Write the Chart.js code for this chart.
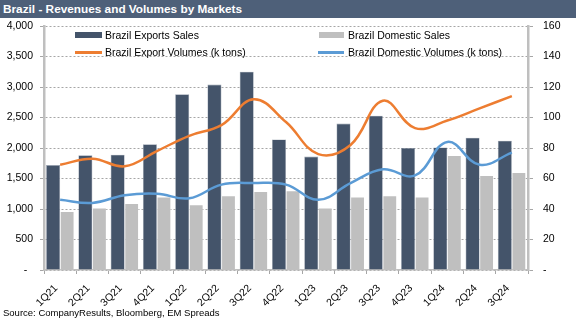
<!DOCTYPE html>
<html>
<head>
<meta charset="utf-8">
<script src="https://cdn.jsdelivr.net/npm/chart.js@4/dist/chart.umd.min.js"></script>
<style>
  html, body { margin: 0; padding: 0; background: #fff; }
  #wrap { position: relative; width: 576px; height: 323px; overflow: hidden; font-family: "Liberation Sans", Arial, sans-serif; }
  #c { position: absolute; left: 0; top: 0; }
  #title { position: absolute; left: 0; top: 0; width: 576px; height: 18px; background: #4e6079; color: #fff; font-weight: bold; font-size: 11.8px; line-height: 18px; padding-left: 3px; box-sizing: border-box; }
  .leg { position: absolute; font-size: 10.5px; color: #000; line-height: 12px; white-space: nowrap; }
  .sw { position: absolute; }
  #source { position: absolute; left: 3px; top: 307px; font-size: 9.5px; color: #000; white-space: nowrap; }
</style>
</head>
<body>
<div id="wrap">
  <canvas id="c" width="576" height="323"></canvas>
  <div id="title">Brazil - Revenues and Volumes by Markets</div>
  <div class="sw" style="left:75px;top:32px;width:27px;height:6px;background:#44546a"></div>
  <div class="leg" style="left:105px;top:29px">Brazil Exports Sales</div>
  <div class="sw" style="left:319px;top:32px;width:25px;height:6px;background:#bfbfbf"></div>
  <div class="leg" style="left:348px;top:29px">Brazil Domestic Sales</div>
  <div class="sw" style="left:75px;top:51px;width:27px;height:2.5px;background:#ed7d31"></div>
  <div class="leg" style="left:105px;top:46px">Brazil Export Volumes (k tons)</div>
  <div class="sw" style="left:318px;top:51px;width:26px;height:2.5px;background:#5b9bd5"></div>
  <div class="leg" style="left:348px;top:46px">Brazil Domestic Volumes (k tons)</div>
  <div id="source">Source: CompanyResults, Bloomberg, EM Spreads</div>
</div>
<script>
const categories = ['1Q21','2Q21','3Q21','4Q21','1Q22','2Q22','3Q22','4Q22','1Q23','2Q23','3Q23','4Q23','1Q24','2Q24','3Q24'];
const exportSales = [1720, 1880, 1890, 2060, 2880, 3040, 3250, 2140, 1860, 2400, 2530, 2000, 2010, 2170, 2120];
const domesticSales = [960, 1020, 1090, 1200, 1070, 1220, 1290, 1300, 1020, 1200, 1220, 1200, 1880, 1550, 1600];
const exportVolumes = [69, 73, 68, 78, 88, 95, 112, 97, 76, 82, 111, 93, 98, 106, 114];
const domesticVolumes = [46, 44, 49, 50, 47, 56, 57, 56, 46, 57, 66, 62, 84, 69, 77];

const tickFont = { family: "'Liberation Sans', Arial, sans-serif", size: 10.5 };

new Chart(document.getElementById('c'), {
  data: {
    labels: categories,
    datasets: [
      { type: 'line', label: 'Brazil Export Volumes (k tons)', data: exportVolumes, yAxisID: 'y1',
        borderColor: '#ed7d31', borderWidth: 2.5, pointRadius: 0, tension: 0.4, order: 0, fill: false },
      { type: 'line', label: 'Brazil Domestic Volumes (k tons)', data: domesticVolumes, yAxisID: 'y1',
        borderColor: '#5b9bd5', borderWidth: 2.5, pointRadius: 0, tension: 0.4, order: 0, fill: false },
      { type: 'bar', label: 'Brazil Exports Sales', data: exportSales, yAxisID: 'y',
        backgroundColor: '#44546a', borderColor: 'rgba(140,150,165,0.9)', borderWidth: 0.6,
        barPercentage: 1.0, categoryPercentage: 0.87, order: 1 },
      { type: 'bar', label: 'Brazil Domestic Sales', data: domesticSales, yAxisID: 'y',
        backgroundColor: '#bfbfbf', borderColor: 'rgba(255,255,255,0.9)', borderWidth: 0.6,
        barPercentage: 1.0, categoryPercentage: 0.87, order: 1 }
    ]
  },
  options: {
    responsive: false,
    animation: false,
    devicePixelRatio: 1,
    layout: { padding: { top: 26, bottom: 0, left: 0, right: 0 } },
    plugins: { legend: { display: false }, tooltip: { enabled: false } },
    scales: {
      x: {
        offset: true,
        afterFit: (s) => { s.height = 53; },
        grid: { display: true, drawOnChartArea: false, drawTicks: true, tickLength: 4, offset: true, color: '#bfbfbf', tickColor: '#a6a6a6' },
        border: { display: true, color: '#bfbfbf', width: 1.5 },
        ticks: { minRotation: 45, maxRotation: 45, autoSkip: false, color: '#000', font: tickFont, padding: 8, labelOffset: -4 }
      },
      y: {
        position: 'left', min: 0, max: 4000,
        afterFit: (s) => { s.width = 44; },
        ticks: { stepSize: 500, color: '#000', font: tickFont, padding: 7,
          callback: (v) => v === 0 ? '-\u2007' : v.toLocaleString('en-US') },
        grid: { color: '#a6a6a6', lineWidth: 1, tickLength: 4, tickColor: '#a6a6a6', tickBorderDash: [] },
        border: { display: true, color: '#bfbfbf', width: 2.5, dash: [2, 2] }
      },
      y1: {
        position: 'right', min: 0, max: 160,
        afterFit: (s) => { s.width = 48; },
        ticks: { stepSize: 20, color: '#000', font: tickFont, padding: 10,
          callback: (v) => v === 0 ? '-' : String(v) },
        grid: { drawOnChartArea: false, tickLength: 5, tickColor: '#a6a6a6' },
        border: { display: true, color: '#bfbfbf', width: 2.5 }
      }
    }
  }
});
</script>
</body>
</html>
